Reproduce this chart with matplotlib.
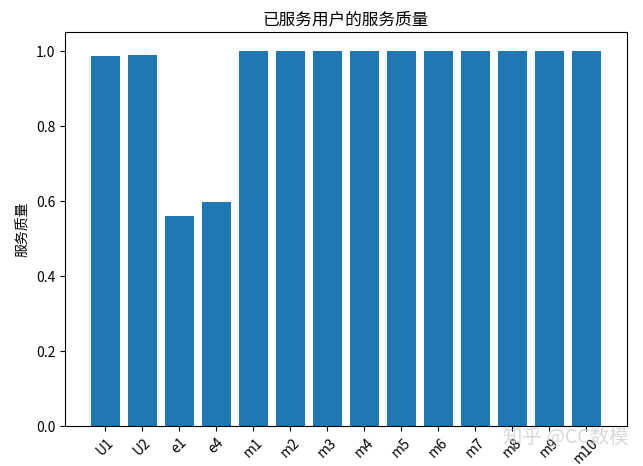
import matplotlib
matplotlib.use("Agg")
import matplotlib.pyplot as plt

plt.rcParams['font.family'] = ['Noto Sans CJK SC', 'DejaVu Sans']
plt.rcParams['axes.unicode_minus'] = False

# ── Data ──────────────────────────────────────────────────────────────────────
users = ["U1", "U2", "e1", "e4", "m1", "m2", "m3", "m4", "m5", "m6", "m7",
         "m8", "m9", "m10"]
quality = [0.987, 0.990, 0.560, 0.597, 1.0, 1.0, 1.0, 1.0, 1.0, 1.0, 1.0,
           1.0, 1.0, 1.0]

fig = plt.figure(figsize=(6.43, 4.66), dpi=100)
ax = fig.add_axes([0.1011, 0.0858, 0.8736, 0.8445])
ax.bar(users, quality, color="#1f77b4")
ax.set_title("已服务用户的服务质量", fontsize=12)
ax.set_ylabel("服务质量", fontsize=10)
ax.tick_params(axis="x", labelrotation=45, labelsize=10)
ax.tick_params(axis="y", labelsize=10)

# watermark from the source image
fig.text(0.977, 0.062, "知乎 @CC数模", ha="right", va="center",
         fontsize=14, color="#d0d0d0", alpha=0.8)

fig.savefig("out.png", dpi=100)
